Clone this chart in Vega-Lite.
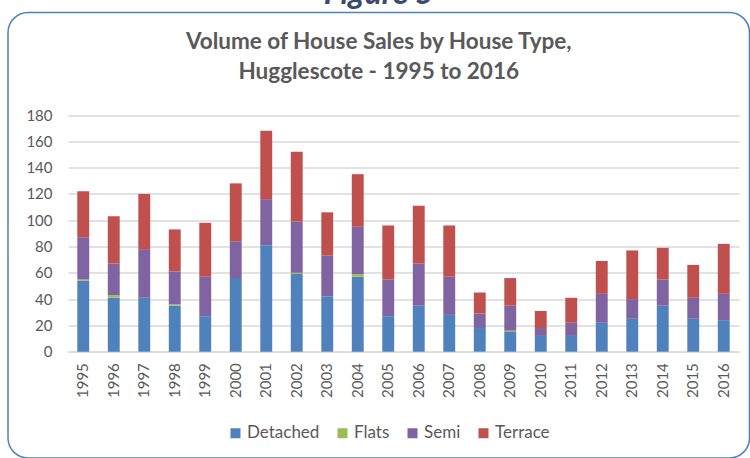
{
  "$schema": "https://vega.github.io/schema/vega-lite/v6.json",
  "width": 741.5,
  "height": 445.5,
  "autosize": "none",
  "padding": {"left": 8, "top": 12.5, "right": 0, "bottom": 0},
  "background": "white",
  "config": {
    "font": "Lato",
    "view": {"stroke": "#4F81BD", "strokeWidth": 1.5, "cornerRadius": 20}
  },
  "title": {
    "text": "Figure 5",
    "subtitle": ["Volume of House Sales by House Type,", "Hugglescote - 1995 to 2016"],
    "anchor": "middle",
    "frame": "group",
    "orient": "top",
    "offset": -72,
    "fontSize": 32,
    "fontStyle": "italic",
    "fontWeight": "bold",
    "color": "#3A4A6B",
    "subtitleFontSize": 22.5,
    "subtitleFontWeight": "bold",
    "subtitleColor": "#595959",
    "subtitleLineHeight": 30,
    "subtitlePadding": 20
  },
  "data": {
    "values": [
      {"year": "1995", "type": "Detached", "sales": 54}, {"year": "1995", "type": "Flats", "sales": 1}, {"year": "1995", "type": "Semi", "sales": 32}, {"year": "1995", "type": "Terrace", "sales": 35},
      {"year": "1996", "type": "Detached", "sales": 41}, {"year": "1996", "type": "Flats", "sales": 2}, {"year": "1996", "type": "Semi", "sales": 24}, {"year": "1996", "type": "Terrace", "sales": 36},
      {"year": "1997", "type": "Detached", "sales": 41}, {"year": "1997", "type": "Flats", "sales": 0}, {"year": "1997", "type": "Semi", "sales": 37}, {"year": "1997", "type": "Terrace", "sales": 42},
      {"year": "1998", "type": "Detached", "sales": 35}, {"year": "1998", "type": "Flats", "sales": 1}, {"year": "1998", "type": "Semi", "sales": 25}, {"year": "1998", "type": "Terrace", "sales": 32},
      {"year": "1999", "type": "Detached", "sales": 27}, {"year": "1999", "type": "Flats", "sales": 0}, {"year": "1999", "type": "Semi", "sales": 30}, {"year": "1999", "type": "Terrace", "sales": 41},
      {"year": "2000", "type": "Detached", "sales": 56}, {"year": "2000", "type": "Flats", "sales": 0}, {"year": "2000", "type": "Semi", "sales": 28}, {"year": "2000", "type": "Terrace", "sales": 44},
      {"year": "2001", "type": "Detached", "sales": 81}, {"year": "2001", "type": "Flats", "sales": 0}, {"year": "2001", "type": "Semi", "sales": 35}, {"year": "2001", "type": "Terrace", "sales": 52},
      {"year": "2002", "type": "Detached", "sales": 59}, {"year": "2002", "type": "Flats", "sales": 1}, {"year": "2002", "type": "Semi", "sales": 39}, {"year": "2002", "type": "Terrace", "sales": 53},
      {"year": "2003", "type": "Detached", "sales": 42}, {"year": "2003", "type": "Flats", "sales": 0}, {"year": "2003", "type": "Semi", "sales": 31}, {"year": "2003", "type": "Terrace", "sales": 33},
      {"year": "2004", "type": "Detached", "sales": 57}, {"year": "2004", "type": "Flats", "sales": 2}, {"year": "2004", "type": "Semi", "sales": 36}, {"year": "2004", "type": "Terrace", "sales": 40},
      {"year": "2005", "type": "Detached", "sales": 27}, {"year": "2005", "type": "Flats", "sales": 0}, {"year": "2005", "type": "Semi", "sales": 28}, {"year": "2005", "type": "Terrace", "sales": 41},
      {"year": "2006", "type": "Detached", "sales": 35}, {"year": "2006", "type": "Flats", "sales": 0}, {"year": "2006", "type": "Semi", "sales": 32}, {"year": "2006", "type": "Terrace", "sales": 44},
      {"year": "2007", "type": "Detached", "sales": 28}, {"year": "2007", "type": "Flats", "sales": 0}, {"year": "2007", "type": "Semi", "sales": 29}, {"year": "2007", "type": "Terrace", "sales": 39},
      {"year": "2008", "type": "Detached", "sales": 18}, {"year": "2008", "type": "Flats", "sales": 0}, {"year": "2008", "type": "Semi", "sales": 11}, {"year": "2008", "type": "Terrace", "sales": 16},
      {"year": "2009", "type": "Detached", "sales": 15}, {"year": "2009", "type": "Flats", "sales": 1}, {"year": "2009", "type": "Semi", "sales": 19}, {"year": "2009", "type": "Terrace", "sales": 21},
      {"year": "2010", "type": "Detached", "sales": 12}, {"year": "2010", "type": "Flats", "sales": 0}, {"year": "2010", "type": "Semi", "sales": 6}, {"year": "2010", "type": "Terrace", "sales": 13},
      {"year": "2011", "type": "Detached", "sales": 12}, {"year": "2011", "type": "Flats", "sales": 0}, {"year": "2011", "type": "Semi", "sales": 10}, {"year": "2011", "type": "Terrace", "sales": 19},
      {"year": "2012", "type": "Detached", "sales": 22}, {"year": "2012", "type": "Flats", "sales": 0}, {"year": "2012", "type": "Semi", "sales": 22}, {"year": "2012", "type": "Terrace", "sales": 25},
      {"year": "2013", "type": "Detached", "sales": 25}, {"year": "2013", "type": "Flats", "sales": 0}, {"year": "2013", "type": "Semi", "sales": 15}, {"year": "2013", "type": "Terrace", "sales": 37},
      {"year": "2014", "type": "Detached", "sales": 35}, {"year": "2014", "type": "Flats", "sales": 0}, {"year": "2014", "type": "Semi", "sales": 20}, {"year": "2014", "type": "Terrace", "sales": 24},
      {"year": "2015", "type": "Detached", "sales": 25}, {"year": "2015", "type": "Flats", "sales": 0}, {"year": "2015", "type": "Semi", "sales": 16}, {"year": "2015", "type": "Terrace", "sales": 25},
      {"year": "2016", "type": "Detached", "sales": 24}, {"year": "2016", "type": "Flats", "sales": 0}, {"year": "2016", "type": "Semi", "sales": 20}, {"year": "2016", "type": "Terrace", "sales": 38}
    ]
  },
  "mark": {"type": "bar"},
  "encoding": {
    "x": {
      "field": "year",
      "type": "ordinal",
      "scale": {"range": [60, 731], "paddingInner": 0.61, "paddingOuter": 0.305},
      "axis": {
        "title": null,
        "orient": "bottom",
        "offset": -106.3,
        "labelAngle": -90,
        "labelAlign": "right",
        "labelBaseline": "middle",
        "labelPadding": 11,
        "labelFontSize": 15,
        "labelColor": "#595959",
        "ticks": false,
        "domainColor": "#D9D9D9",
        "domainWidth": 1.3,
        "grid": false
      }
    },
    "y": {
      "field": "sales",
      "type": "quantitative",
      "stack": "zero",
      "scale": {"domain": [0, 180], "range": [339.2, 102.5], "nice": false},
      "axis": {
        "title": null,
        "orient": "left",
        "offset": -60,
        "values": [0, 20, 40, 60, 80, 100, 120, 140, 160, 180],
        "labelPadding": 16,
        "labelFontSize": 15,
        "labelColor": "#595959",
        "ticks": false,
        "domain": false,
        "grid": true,
        "gridColor": "#D9D9D9",
        "gridWidth": 1.3
      }
    },
    "order": {"field": "type", "type": "nominal", "sort": "ascending"},
    "color": {
      "field": "type",
      "type": "nominal",
      "scale": {
        "domain": ["Detached", "Flats", "Semi", "Terrace"],
        "range": ["#4F81BD", "#9BBB59", "#8064A2", "#C0504D"]
      },
      "legend": {
        "title": null,
        "orient": "none",
        "direction": "horizontal",
        "legendX": 219,
        "legendY": 412,
        "symbolType": "square",
        "symbolSize": 100,
        "symbolStrokeWidth": 0,
        "labelFontSize": 17,
        "labelColor": "#595959",
        "labelOffset": 3,
        "columnPadding": 14
      }
    }
  }
}
